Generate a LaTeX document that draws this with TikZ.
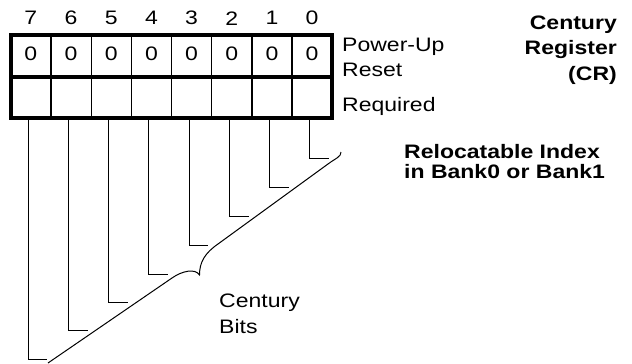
\documentclass[tikz,border=0pt]{standalone}
\usepackage{fontspec}
\setmainfont{Liberation Sans}[FakeStretch=1.18]
\usetikzlibrary{positioning}

\begin{document}
\begin{tikzpicture}
    [
        x=1pt, y=-1pt,
        on grid,
        node distance=40.175pt and 40.175pt,
        cell/.style={draw, line width=1.3pt, minimum width=40.175pt, minimum height=42.5pt, inner sep=0pt, outer sep=0pt, text depth=5pt, font=\fontsize{19.5}{24}\selectfont},
        frame/.style={line width=4pt},
        leader/.style={line width=1pt},
        lbl/.style={inner sep=0pt, align=left, font=\fontsize{19.5}{25.5}\selectfont},
        title/.style={inner sep=0pt, font=\bfseries\fontsize{19.5}{25.5}\selectfont}
    ]
        \useasboundingbox (0,0) rectangle (632,364);
        % =========================================================================
        % NODES
        % =========================================================================
        % --- Row 1: power-up values ---
        \node [cell] (v7) at (30.89,55.75) {0};
        \node [cell, right=of v7] (v6) {0};
        \node [cell, right=of v6] (v5) {0};
        \node [cell, right=of v5] (v4) {0};
        \node [cell, right=of v4] (v3) {0};
        \node [cell, right=of v3] (v2) {0};
        \node [cell, right=of v2] (v1) {0};
        \node [cell, right=of v1] (v0) {0};
        % --- Row 2: required ---
        \node [cell, minimum height=41.3pt, below=41.9pt of v7] (r7) {};
        \node [cell, minimum height=41.3pt, right=of r7] (r6) {};
        \node [cell, minimum height=41.3pt, right=of r6] (r5) {};
        \node [cell, minimum height=41.3pt, right=of r5] (r4) {};
        \node [cell, minimum height=41.3pt, right=of r4] (r3) {};
        \node [cell, minimum height=41.3pt, right=of r3] (r2) {};
        \node [cell, minimum height=41.3pt, right=of r2] (r1) {};
        \node [cell, minimum height=41.3pt, right=of r1] (r0) {};
        % --- Bit numbers ---
        \node [lbl, above=37.5pt of v7] (b7) {7};
        \node [lbl, above=37.5pt of v6] (b6) {6};
        \node [lbl, above=37.5pt of v5] (b5) {5};
        \node [lbl, above=37.5pt of v4] (b4) {4};
        \node [lbl, above=37.5pt of v3] (b3) {3};
        \node [lbl, above=37.5pt of v2] (b2) {2};
        \node [lbl, above=37.5pt of v1] (b1) {1};
        \node [lbl, above=37.5pt of v0] (b0) {0};
        % --- Texts (base = last line) ---
        \node [lbl, anchor=base west] (reset) at (342,76.5) {Power-Up\\Reset};
        \node [lbl, anchor=base west] (req) at (342,111) {Required};
        \node [title, anchor=base east, align=right] (cr) at (617,80.3) {Century\\Register\\(CR)};
        \node [title, anchor=base west, align=left, font=\bfseries\fontsize{19.5}{20}\selectfont] (index) at (404,178.3) {Relocatable Index\\in Bank0 or Bank1};
        \node [lbl, anchor=base west] (bits) at (219,333.3) {Century\\Bits};
        % --- Leader ends ---
        \coordinate (s7) at (47,359);
        \coordinate (s6) at (88,330.7);
        \coordinate (s5) at (128,302.7);
        \coordinate (s4) at (168,274);
        \coordinate (s3) at (208,245);
        \coordinate (s2) at (248.5,216);
        \coordinate (s1) at (289,187);
        \coordinate (s0) at (328.5,158);
        % --- Brace ---
        \coordinate (braceLow) at (48,363);
        \coordinate (braceTip) at (199.5,275);
        \coordinate (braceHigh) at (341,152);

        % =========================================================================
        % PATHS
        % =========================================================================
        % --- Register frame ---
        \draw [frame] (v7.north west) rectangle (r0.south east);
        \draw [frame] (v7.south west) -- (v0.south east);
        % --- Leaders ---
        \draw [leader] ([xshift=-2.5pt]r7.south) |- (s7);
        \draw [leader] ([xshift=-2.5pt]r6.south) |- (s6);
        \draw [leader] ([xshift=-2.5pt]r5.south) |- (s5);
        \draw [leader] ([xshift=-2.5pt]r4.south) |- (s4);
        \draw [leader] ([xshift=-2.5pt]r3.south) |- (s3);
        \draw [leader] ([xshift=-2.5pt]r2.south) |- (s2);
        \draw [leader] ([xshift=-2.5pt]r1.south) |- (s1);
        \draw [leader] ([xshift=-2.5pt]r0.south) |- (s0);
        % --- Brace ---
        \draw [leader] (braceLow) -- (172,278) .. controls (182,271) and (195,268) .. (braceTip)
            .. controls (199.5,262) and (205,253) .. (218,244) -- (328,164)
            .. controls (336,158) and (341,157) .. (braceHigh);

    \end{tikzpicture}
\end{document}
